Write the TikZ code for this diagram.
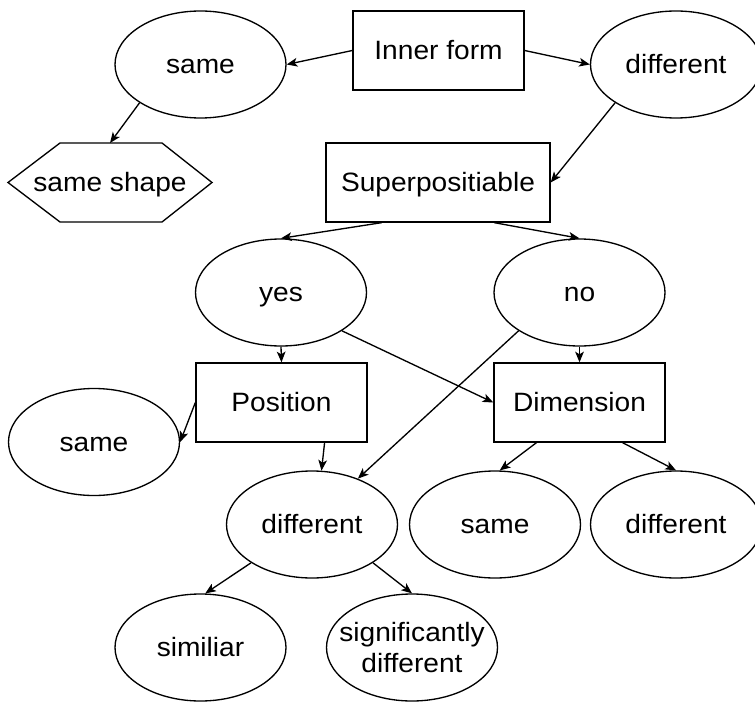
\documentclass[tikz,border=0pt]{standalone}
\usepackage{fontspec}
\setmainfont{Liberation Sans}[FakeStretch=1.06]
\usetikzlibrary{arrows.meta,calc,shapes.geometric}
\begin{document}
\begin{tikzpicture}[x=0.75pt,y=-0.75pt,
 every node/.style={font=\fontsize{19.9}{23.25}\selectfont, line width=1pt, text=black, text height=17pt, text depth=3.5pt},
 ell/.style={draw, ellipse, inner sep=0pt, minimum width=128.25pt, minimum height=80.25pt},
 box/.style={draw, rectangle, inner sep=0pt, minimum width=128.25pt, minimum height=59.25pt},
 arr/.style={-{Stealth[length=8pt,width=6.5pt,inset=2pt]}, line width=1pt}]
\useasboundingbox (0,0) rectangle (755,702);
% nodes
\node[box] (inner) at (438.5,50.5) {Inner form};
\node[box, minimum width=168pt] (super) at (438,182.5) {Superpositiable};
\node[ell] (sametop) at (200.5,64.5) {same};
\node[ell] (difftop) at (676,64.5) {different};
\node[inner sep=0pt, outer sep=0pt, minimum width=153pt, minimum height=59.25pt] (hex) at (110,182.5) {same shape};
\draw[line width=1pt] (hex.west) -- ($(hex.north west)+(52,0)$) -- ($(hex.north east)+(-50,0)$) -- (hex.east) -- ($(hex.south east)+(-50,0)$) -- ($(hex.south west)+(52,0)$) -- cycle;
\node[ell] (yes) at (281,292.5) {yes};
\node[ell] (no) at (579.5,292.5) {no};
\node[box] (pos) at (281.5,402.5) {Position};
\node[box] (dim) at (579.5,402.5) {Dimension};
\node[ell] (sameleft) at (94,442) {same};
\node[ell] (diffmid) at (312,524.5) {different};
\node[ell] (samelow) at (495,524.5) {same};
\node[ell] (diffright) at (676,524.5) {different};
\node[ell] (simil) at (200.5,647.5) {similiar};
\node[ell, text height=, text depth=] (signif) at (412,647.5) {\makebox[0pt]{\raisebox{-8pt}[0pt][0pt]{\begin{tabular}{@{}c@{}}significantly\\different\end{tabular}}}};
% connectors
\draw[arr] (inner.west) -- (sametop.east);
\draw[arr] (inner.east) -- (difftop.west);
\draw[arr] (sametop.south west) -- (hex.north);
\draw[arr] (difftop.south west) -- (super.east);
\draw[arr] ($(super.south)!0.5!(super.south west)$) -- (yes.north);
\draw[arr] ($(super.south)!0.5!(super.south east)$) -- (no.north);
\draw[arr] (yes.south) -- (pos.north);
\draw[arr] (yes.south east) -- (dim.west);
\draw[arr] (no.south) -- (dim.north);
\draw[arr] (no.south west) -- (diffmid.45);
\draw[arr] (pos.west) -- (sameleft.east);
\draw[arr] ($(pos.south)!0.5!(pos.south east)$) -- (diffmid.80);
\draw[arr] ($(dim.south)!0.5!(dim.south west)$) -- (samelow.85);
\draw[arr] ($(dim.south)!0.5!(dim.south east)$) -- (diffright.north);
\draw[arr] (diffmid.south west) -- (simil.85);
\draw[arr] (diffmid.south east) -- (signif.north);
\end{tikzpicture}
\end{document}
